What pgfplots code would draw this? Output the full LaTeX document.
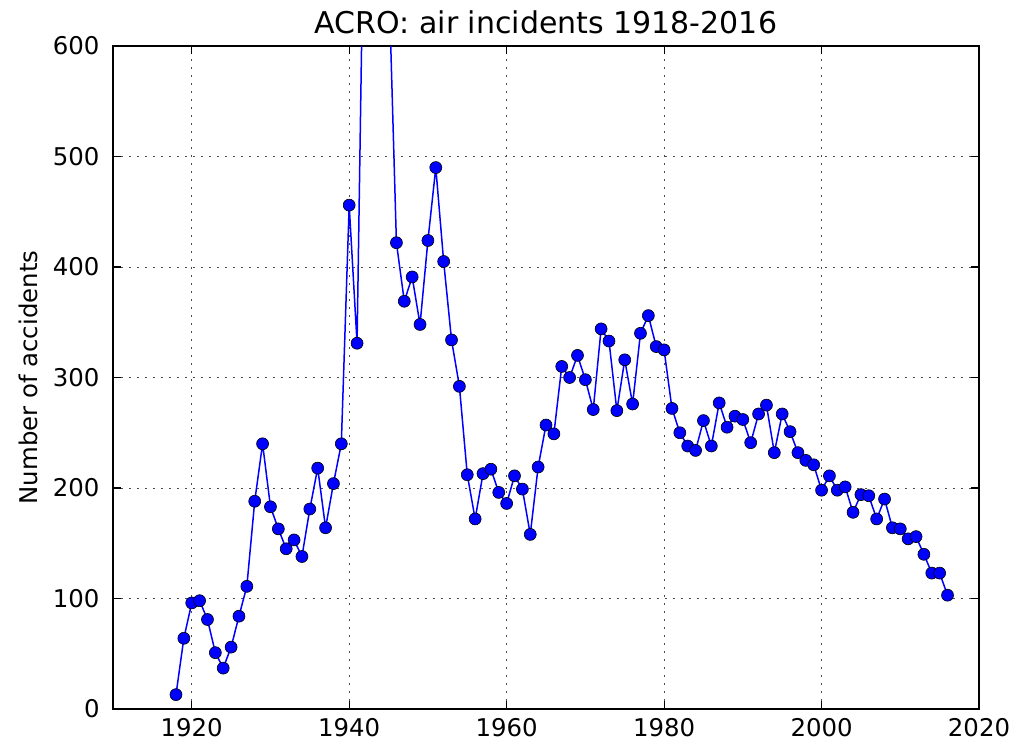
\documentclass[border=0pt]{standalone}
\usepackage{pgfplots}
\pgfplotsset{compat=1.18}
\usepackage{pgfplotstable}
\usepackage{fontspec}
\setmainfont{DejaVu Sans}
\pgfplotstableread{
year n
1918 13
1919 64
1920 96
1921 98
1922 81
1923 51
1924 37
1925 56
1926 84
1927 111
1928 188
1929 240
1930 183
1931 163
1932 145
1933 153
1934 138
1935 181
1936 218
1937 164
1938 204
1939 240
1940 456
1941 331
1942 800
1943 1000
1944 1000
1945 670
1946 422
1947 369
1948 391
1949 348
1950 424
1951 490
1952 405
1953 334
1954 292
1955 212
1956 172
1957 213
1958 217
1959 196
1960 186
1961 211
1962 199
1963 158
1964 219
1965 257
1966 249
1967 310
1968 300
1969 320
1970 298
1971 271
1972 344
1973 333
1974 270
1975 316
1976 276
1977 340
1978 356
1979 328
1980 325
1981 272
1982 250
1983 238
1984 234
1985 261
1986 238
1987 277
1988 255
1989 265
1990 262
1991 241
1992 267
1993 275
1994 232
1995 267
1996 251
1997 232
1998 225
1999 221
2000 198
2001 211
2002 198
2003 201
2004 178
2005 194
2006 193
2007 172
2008 190
2009 164
2010 163
2011 154
2012 156
2013 140
2014 123
2015 123
2016 103
}\acro
\begin{document}
\begin{tikzpicture}
\begin{axis}[
  scale only axis,
  width=433pt, height=331.5pt,
  xmin=1910, xmax=2020, ymin=0, ymax=600,
  xtick={1920,1940,...,2020},
  ytick={0,100,...,600},
  minor tick num=0,
  tick align=inside,
  xtick pos=both, ytick pos=both,
  major tick length=4pt,
  tick style={black, line width=0.6pt},
  axis line style={black, line width=1pt},
  grid=major,
  major grid style={black!70, line width=0.5pt, dash pattern=on 0.9pt off 3.1pt},
  /pgf/number format/assume math mode=true,
  /pgf/number format/1000 sep={},
  ticklabel style={font=\fontsize{12.2}{14}\selectfont},
  xticklabel style={yshift=-1.2pt},
  yticklabel style={xshift=-3.2pt},
  ylabel={Number of accidents},
  ylabel style={font=\fontsize{12.2}{14}\selectfont, at={(axis description cs:-0.0982,0.5)}, anchor=center},
  title={ACRO: air incidents 1918-2016},
  title style={font=\fontsize{15}{18}\selectfont, at={(axis description cs:0.5,1.0181)}, anchor=center},
  clip marker paths=true,
]
\addplot[color={rgb,1:red,0;green,0;blue,1}, line width=0.75pt, mark=*, mark size=3pt,
  mark options={fill={rgb,1:red,0;green,0;blue,1}, draw=black, line width=0.3pt}]
  table[x=year, y=n] {\acro};
\end{axis}
\pgfresetboundingbox
\path ([shift={(-56.5pt,-17pt)}]current axis.south west) rectangle ([shift={(20.5pt,23pt)}]current axis.north east);
\end{tikzpicture}
\end{document}
